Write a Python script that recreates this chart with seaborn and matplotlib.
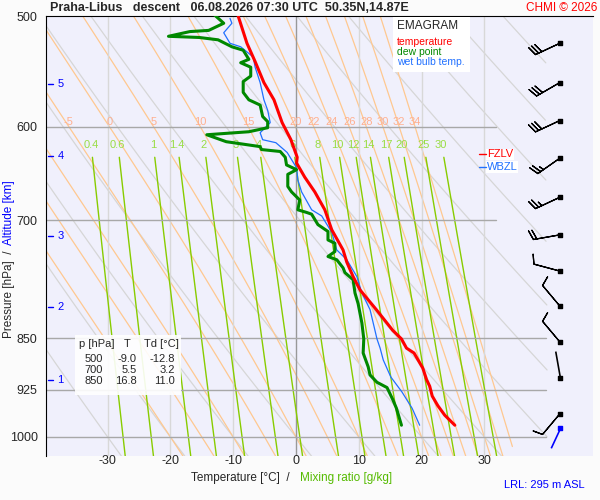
import numpy as np
import pandas as pd
import matplotlib
matplotlib.use("Agg")
import matplotlib.pyplot as plt
import seaborn as sns

# ---------------- data ----------------
t_p = [500, 523, 539, 558, 574, 596, 613, 631, 637, 652, 668, 688, 711, 735, 750, 768, 785, 811, 839, 851,
       864, 871, 893, 910, 920, 935, 950, 965, 981]
t_T = [-9.2, -7.8, -6.5, -5.1, -3.5, -2.2, -0.8, 0.2, 0.1, 1.4, 3.0, 4.6, 5.7, 7.5, 8.1, 9.1, 10.2, 12.8, 15.4, 16.8,
       17.6, 18.8, 20.2, 20.8, 21.3, 21.7, 22.6, 23.7, 25.3]

td_p = [499, 506, 512, 513, 517, 518, 520, 526, 529, 537, 540, 544, 552, 557, 567, 574, 579, 590, 595, 601, 605,
        608, 615, 620, 623, 625, 631, 639, 644, 649, 662, 668, 677, 688, 691, 693, 705, 713, 723, 727, 737, 743,
        747, 757, 763, 772, 789, 803, 829, 851, 871, 891, 903, 914, 922, 940, 954, 981]
td_T = [-13.0, -11.5, -13.9, -16.9, -20.3, -15.4, -12.4, -10.2, -8.4, -7.5, -8.8, -7.2, -7.2, -8.4, -8.4, -7.5,
        -5.7, -5.3, -4.5, -4.5, -7.5, -14.2, -11.1, -5.7, -5.5, -2.5, -1.7, -1.5, 0.1, -1.3, -1.3, -0.7, 0.6, 0.3,
        1.7, 2.5, 3.5, 5.1, 5.1, 6.2, 6.2, 5.1, 6.5, 7.5, 7.8, 9.1, 9.4, 9.9, 10.5, 10.8, 10.7, 11.5, 11.8, 12.9,
        14.5, 15.4, 16.0, 16.8]

wb_p = [502, 506, 514, 523, 526, 535, 544, 558, 574, 584, 596, 606, 613, 616, 626, 642, 655, 668, 688, 695, 714,
        735, 747, 768, 789, 811, 851, 864, 881, 906, 929, 954, 981]
wb_T = [-10.5, -10.2, -11.5, -10.5, -8.8, -6.8, -6.5, -5.7, -5.1, -4.5, -4.1, -5.7, -5.3, -3.2, -1.4, 0.1, 0.3,
        0.9, 2.5, 4.1, 5.7, 6.5, 8.1, 9.7, 10.5, 11.8, 12.9, 13.4, 13.9, 15.1, 16.9, 18.5, 19.7]

barb_p = [523, 558, 594, 632, 674, 717, 761, 806, 855, 963]
barb_dir = [245, 240, 245, 235, 245, 260, 285, 320, 320, 220]
barb_kt = [30, 30, 30, 25, 25, 20, 10, 10, 10, 10]
calm_p = [908]
calm_dir = [350]
surf_p = [985]
surf_dir = [205]

alt_km = [1, 2, 3, 4, 5]
alt_p = [910, 808, 718, 630, 559]

mix_vals = [0.4, 0.6, 1, 1.4, 2, 3, 4, 6, 8, 10, 12, 14, 17, 20, 25, 30]
thw_labels = [-5, 0, 5, 10, 15, 20, 22, 24, 26, 28, 30, 32, 34]
thw_vals = [-20, -15, -10, -5, 0, 5, 10, 15, 20, 22, 24, 26, 28, 30, 32, 34]
theta_vals = list(range(-30, 141, 10))
p_grid = [600, 700, 850, 925, 1000]
iso_T = [-30, -20, -10, 10, 20, 30]
xticks = [-30, -20, -10, 0, 10, 20, 30]

table_p = [500, 700, 850]
table_T = [-9.0, 5.5, 16.8]
table_Td = [-12.8, 3.2, 11.0]

fzlv_p = 628
wbzl_p = 641

# ---------------- figure ----------------
sns.set_style("white")
plt.rcParams['font.family'] = ['Liberation Sans', 'DejaVu Sans']
fig = plt.figure(figsize=(6, 5), dpi=100, facecolor="#fbfbfb")
ax = fig.add_axes([46/600, 44/500, 547/600, 440/500])
ax.set_facecolor("#f0f0fc")
XMIN, XMAX = -39.8, 47.3
PBOT, PTOP = 1032, 500
ax.set_yscale("log")
ax.set_xlim(XMIN, XMAX)
ax.set_ylim(PBOT, PTOP)
for s in ["right", "bottom"]:
    ax.spines[s].set_visible(False)
ax.spines["top"].set_color("black")
ax.spines["left"].set_color("black")

# thermodynamics
Rd, cp, Lv, eps = 287.0, 1004.0, 2.5e6, 0.622
def es(Tc):
    return 6.112 * np.exp(17.67 * Tc / (Tc + 243.5))
def ws(Tc, p):
    e = es(Tc)
    return eps * e / (p - e)

# dry adiabats
pp = np.linspace(PTOP, PBOT, 200)
for th in theta_vals:
    T = (th + 273.15) * (pp / 1000) ** 0.2857 - 273.15
    m = T <= 40
    ax.plot(T[m], pp[m], color="#d6d6d6", lw=0.9, zorder=1)

# pseudo-adiabats
def moist(thw):
    res_p, res_T = [], []
    for direction in (-1, 1):
        p, T = 1000.0, thw + 273.15
        ps, Ts = [p], [T]
        target = PTOP if direction < 0 else PBOT
        dp = 2.0 * direction
        while (p > target) if direction < 0 else (p < target):
            rs = ws(T - 273.15, p)
            dTdp = (Rd * T + Lv * rs) / (p * (cp + Lv * Lv * rs * eps / (Rd * T * T)))
            T += dTdp * dp
            p += dp
            ps.append(p); Ts.append(T)
        if direction < 0:
            res_p = ps[::-1]; res_T = Ts[::-1]
        else:
            res_p += ps[1:]; res_T += Ts[1:]
    return np.array(res_p), np.array(res_T) - 273.15

for thw in thw_vals:
    P, T = moist(thw)
    m = T <= 34.5
    ax.plot(T[m], P[m], color="#ffc890", lw=0.9, zorder=1)
    if thw in thw_labels:
        tl = np.interp(600, P, T)
        ax.text(tl, 600, str(thw), color="#ffb090", fontsize=8, ha="center", va="bottom", zorder=3)

# mixing ratio lines
pm = np.linspace(631, PBOT, 100)
for w in mix_vals:
    e = (w / 1000) * pm / (eps + w / 1000)
    lne = np.log(e / 6.112)
    T = 243.5 * lne / (17.67 - lne)
    ax.plot(T, pm, color="#88cc00", lw=1.0, zorder=2)
    e0 = (w / 1000) * 615 / (eps + w / 1000)
    l0 = np.log(e0 / 6.112)
    ax.text(243.5 * l0 / (17.67 - l0), 618, f"{w:g}", color="#99dd44", fontsize=8,
            ha="center", va="center", zorder=3)

# grid
for t in iso_T:
    ax.axvline(t, color="#d8d8d8", lw=1, zorder=1)
ax.axvline(0, color="#999999", lw=1, zorder=1)
for p in p_grid:
    xe = 31.8 if p < 800 else 39.8
    ax.plot([XMIN, xe], [p, p], color="#a8a8a8", lw=1, zorder=2)

# profiles
df_t = pd.DataFrame({"p": t_p, "T": t_T})
df_td = pd.DataFrame({"p": td_p, "T": td_T})
df_wb = pd.DataFrame({"p": wb_p, "T": wb_T})
sns.lineplot(data=df_wb, x="T", y="p", sort=False, color="#2070ff", lw=0.9, ax=ax, zorder=5, estimator=None)
sns.lineplot(data=df_td, x="T", y="p", sort=False, color="#008800", lw=2.2, ax=ax, zorder=6, estimator=None)
sns.lineplot(data=df_t, x="T", y="p", sort=False, color="#ff0000", lw=2.2, ax=ax, zorder=7, estimator=None)
ax.set_xlabel("")
ax.set_ylabel("")

# wind barbs
bx = 42.0
d = np.radians(barb_dir)
u = -np.array(barb_kt) * np.sin(d)
v = -np.array(barb_kt) * np.cos(d)
ax.barbs([bx] * len(barb_p), barb_p, u, v, length=6.2, lw=0.9, color="black", zorder=8, clip_on=False,
         sizes=dict(spacing=0.13, height=0.35))
ax.scatter([bx] * len(barb_p + calm_p), barb_p + calm_p, marker="s", s=7, color="black", zorder=9)
dc = np.radians(calm_dir)
ax.quiver([bx], calm_p, [np.sin(dc)], [np.cos(dc)], color="black", headwidth=0, headlength=0,
          headaxislength=0, scale=1 / 0.05, scale_units="width", width=0.003, zorder=8)
dsf = np.radians(surf_dir)
ax.quiver([bx], surf_p, [np.sin(dsf)], [np.cos(dsf)], color="#0000ff", headwidth=0, headlength=0,
          headaxislength=0, scale=1 / 0.04, scale_units="width", width=0.003, zorder=8)
ax.scatter([bx], surf_p, marker="s", s=7, color="#0000ff", zorder=9)

# axes ticks
ax.set_yticks(p_grid + [500])
ax.set_yticklabels([str(p) for p in p_grid] + ["500"], fontsize=9)
ax.yaxis.set_minor_locator(matplotlib.ticker.NullLocator())
ax.tick_params(axis="y", length=0, pad=6)
ax.set_xticks([])
for t in xticks:
    ax.text(t, 1041, str(t), ha="center", va="center", fontsize=9, clip_on=False)
for km, p in zip(alt_km, alt_p):
    ax.plot([XMIN + 0.3, XMIN + 1.1], [p, p], color="#0000ff", lw=1, zorder=9)
    ax.text(XMIN + 1.8, p, str(km), color="#0000ff", fontsize=8, va="center")

# FZLV / WBZL
ax.text(30.4, fzlv_p, "FZLV", color="#ff0000", fontsize=8, va="center",
        bbox=dict(fc="white", ec="none", pad=0.5), zorder=9)
ax.plot([29.2, 30.2], [fzlv_p] * 2, color="#ff0000", lw=1, zorder=10)
ax.text(30.4, wbzl_p, "WBZL", color="#2070ff", fontsize=8, va="center",
        bbox=dict(fc="white", ec="none", pad=0.5), zorder=9)
ax.plot([29.2, 30.2], [wbzl_p] * 2, color="#2070ff", lw=1, zorder=10)

# legend box
fig.patches.append(matplotlib.patches.Rectangle((393/600, 1 - 72/500), 77/600, 55/500, transform=fig.transFigure,
                                                 fc="white", ec="none", zorder=5))
fig.text(397/600, 1 - 26/500, "EMAGRAM", fontsize=8.5, va="center", zorder=6)
fig.text(397/600, 1 - 42/500, "temperature", fontsize=7.5, color="#ff0000", va="center", zorder=6)
fig.text(397/600, 1 - 52/500, "dew point", fontsize=7.5, color="#008800", va="center", zorder=6)
fig.text(397/600, 1 - 62/500, "wet bulb temp.", fontsize=7.5, color="#2070ff", va="center", zorder=6)

# table
fig.patches.append(matplotlib.patches.Rectangle((75/600, 1 - 395/500), 106/600, 60/500, transform=fig.transFigure,
                                                 fc="white", ec="none", zorder=5, alpha=0.9))
fig.text(79/600, 1 - 344/500, "p [hPa]", fontsize=8, va="center", zorder=6)
fig.text(127/600, 1 - 344/500, "T", fontsize=8, va="center", ha="center", zorder=6)
fig.text(144/600, 1 - 344/500, "Td [°C]", fontsize=8, va="center", zorder=6)
for i, (p, T, Td) in enumerate(zip(table_p, table_T, table_Td)):
    y = 1 - (359 + 11 * i) / 500
    fig.text(103/600, y, str(p), fontsize=8, ha="right", va="center", zorder=6)
    fig.text(137/600, y, f"{T:.1f}", fontsize=8, ha="right", va="center", zorder=6)
    fig.text(175/600, y, f"{Td:.1f}", fontsize=8, ha="right", va="center", zorder=6)

# titles and labels
fig.text(50/600, 1 - 8/500, "Praha-Libus   descent   06.08.2026 07:30 UTC  50.35N,14.87E",
         fontsize=9, fontweight="bold", va="center")
fig.text(597/600, 1 - 8/500, "CHMI © 2026", fontsize=8.5, color="#ff0000", ha="right", va="center")
fig.text(296/600, 1 - 478/500, "Temperature [°C]  /  ", fontsize=8.5, ha="right", va="center")
fig.text(300/600, 1 - 478/500, "Mixing ratio [g/kg]", fontsize=8.5, color="#55bb00", ha="left", va="center")
fig.text(585/600, 1 - 485/500, "LRL: 295 m ASL", fontsize=8, color="#0000ff", ha="right", va="center")
fig.text(3/600, 1 - 338/500, "Pressure [hPa]  /", fontsize=8.5, rotation=90, ha="left", va="bottom")
fig.text(3/600, 1 - 245/500, "Altitude [km]", fontsize=8.5, rotation=90, color="#0000ff", ha="left", va="bottom")

fig.savefig("out.png", dpi=100, facecolor=fig.get_facecolor())
